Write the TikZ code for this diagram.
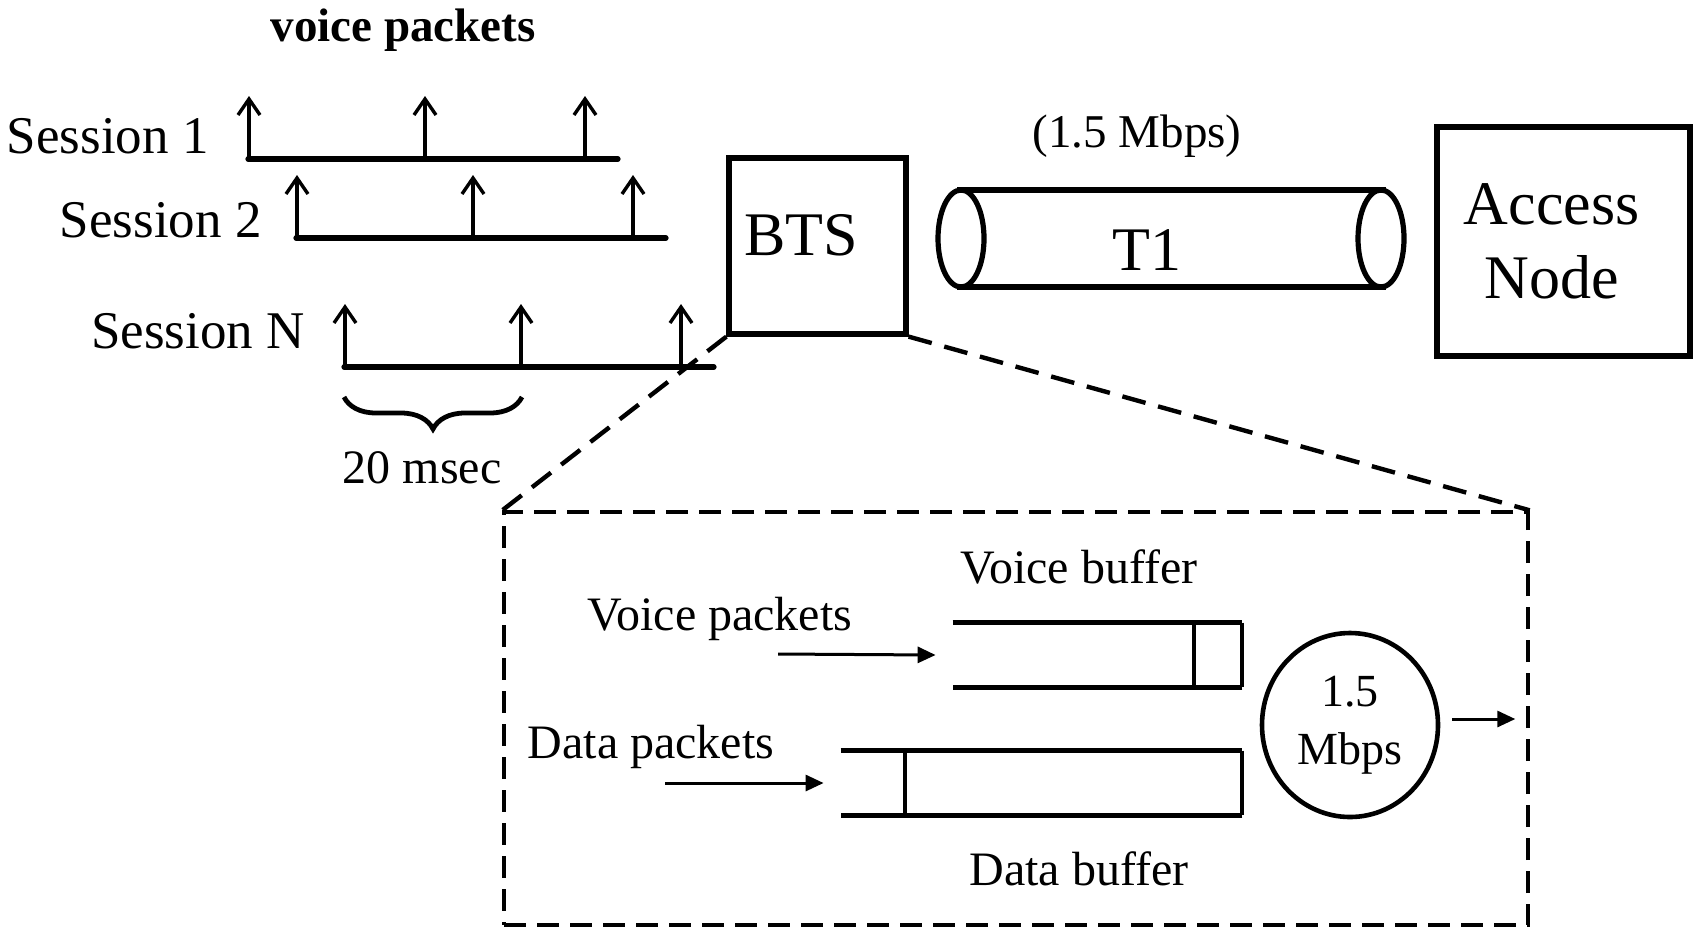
\documentclass[tikz,border=0pt]{standalone}
\usepackage{fontspec}
\setmainfont{Liberation Serif}
\usetikzlibrary{shapes.geometric,arrows.meta,positioning,calc,decorations.pathreplacing}

\begin{document}
\begin{tikzpicture}[x=0.5pt, y=-0.5pt,
  txt/.style={font=\fontsize{24}{29}\selectfont, inner sep=0pt},
  sesstxt/.style={font=\fontsize{26.5}{32}\selectfont, inner sep=0pt},
  bigtxt/.style={font=\fontsize{31}{37}\selectfont, inner sep=0pt},
  box/.style={draw, line width=2.6pt, inner sep=0pt},
  thickline/.style={line width=2.6pt},
  thinline/.style={line width=2pt},
  pkt/.style={line width=1.7pt, -{Straight Barb[length=8pt,width=11pt]}},
  feed/.style={line width=1.5pt, -{Triangle[length=9pt,width=8pt]}},
  zoomline/.style={line width=2.2pt, dash pattern=on 12pt off 6.5pt}]
  \useasboundingbox (0,0) rectangle (1696,928);

  % Sessions
  \node[font=\fontsize{23.5}{28}\selectfont\bfseries, inner sep=0pt, anchor=base] (title) at (403,41) {voice packets};
  \node[sesstxt, anchor=base east] (s1) at (209,153) {Session 1};
  \node[sesstxt, anchor=base east] (s2) at (262,237) {Session 2};
  \node[sesstxt, anchor=base east] (sn) at (305,348) {Session N};
  \foreach \xs/\yb in {248/159, 296/238, 344/367} {
    \draw[thickline, line cap=round] (\xs,\yb) -- ++(370,0);
    \foreach \dx in {1,177,337}
      \draw[pkt] (\xs+\dx,\yb) -- ++(0,-63);
  }
  \draw[line width=2.4pt, decorate, decoration={brace, mirror, amplitude=16pt}] (344,397) -- (522,397);
  \node[txt, anchor=base] (period) at (422,483) {20 msec};

  % BTS, T1 link, access node
  \node[box, minimum width=88.5pt, minimum height=88pt] (bts) at (817.5,246) {};
  \node[bigtxt, anchor=base] at (801,255) {BTS};
  \draw[thickline] (957,190) -- (1386,190) (957,287) -- (1386,287);
  \draw[thickline] (961,238.5) ellipse [x radius=11.5pt, y radius=24.25pt];
  \draw[thickline] (1381,238.5) ellipse [x radius=11.5pt, y radius=24.25pt];
  \node[bigtxt, anchor=base] (t1) at (1147,270) {T1};
  \node[font=\fontsize{23.5}{28}\selectfont, inner sep=0pt, anchor=base] (rate) at (1137,147) {(1.5 Mbps)};
  \node[box, minimum width=126.5pt, minimum height=114.5pt] (access) at (1563.5,241.5) {};
  \node[bigtxt, align=center] at ($(access)+(-12,0)$) {Access\\Node};

  % Zoomed view of the BTS
  \node[draw, line width=1.7pt, dash pattern=on 11pt off 5.5pt, minimum width=512pt, minimum height=206.5pt] (detail) at (1016,718.5) {};
  \draw[zoomline] (bts.south west) -- (detail.north west);
  \draw[zoomline] (bts.south east) -- (detail.north east);

  % Buffers
  \node[minimum width=144.5pt, minimum height=32pt, inner sep=0pt] (vbuf) at (1097.5,655) {};
  \node[minimum width=200.5pt, minimum height=32pt, inner sep=0pt] (dbuf) at (1041.5,783) {};
  \draw[thickline] (vbuf.north west) -- (vbuf.north east) (vbuf.south east) -- (vbuf.south west);
  \draw[thinline] (vbuf.north east) -- (vbuf.south east)
    ([xshift=-24pt]vbuf.north east) -- ([xshift=-24pt]vbuf.south east);
  \draw[thickline] (dbuf.north west) -- (dbuf.north east) (dbuf.south east) -- (dbuf.south west);
  \draw[thinline] (dbuf.north east) -- (dbuf.south east)
    ([xshift=32pt]dbuf.north west) -- ([xshift=32pt]dbuf.south west);
  \node[txt, anchor=base] (vlbl) at (1079,583) {Voice buffer};
  \node[txt, anchor=base] (dlbl) at (1079,885) {Data buffer};

  % Packets in and out
  \node[txt, anchor=base] (vpk) at (720,630) {Voice packets};
  \node[txt, anchor=base] (dpk) at (651,758) {Data packets};
  \coordinate (vin) at (778,654);
  \coordinate (din) at (665,783);
  \draw[feed] (vin) -- ([xshift=-8.5pt]vbuf.west);
  \draw[feed] (din) -- ([xshift=-8.5pt]dbuf.west);
  \node[draw, ellipse, line width=2.3pt, minimum width=88pt, minimum height=92pt, inner sep=0pt,
    align=center, font=\fontsize{23}{29}\selectfont] (link) at (1350,725) {1.5\\Mbps};
  \draw[feed] ([xshift=6pt,yshift=3pt]link.east) -- ([xshift=37.5pt,yshift=3pt]link.east);
\end{tikzpicture}
\end{document}
